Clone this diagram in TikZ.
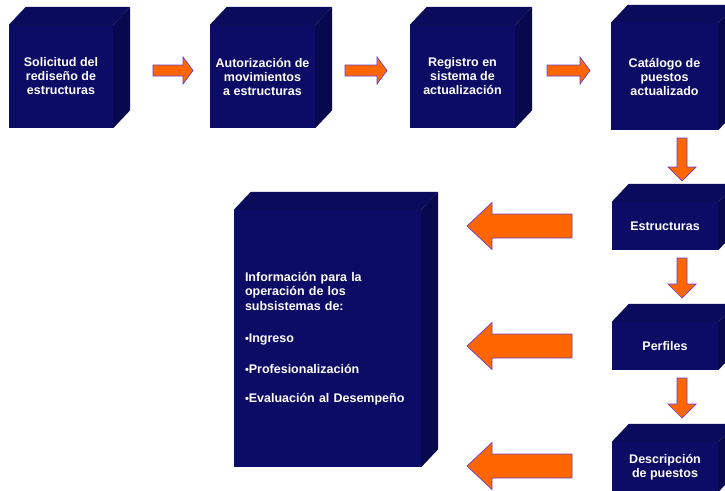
\documentclass[tikz,border=0pt]{standalone}
\usepackage{fontspec}
\setmainfont{Liberation Sans}
\definecolor{cubefront}{RGB}{12,12,102}
\definecolor{cubetop}{RGB}{11,11,92}
\definecolor{cubeside}{RGB}{8,8,78}
\definecolor{arrowfill}{RGB}{255,102,0}
\definecolor{arrowline}{RGB}{104,64,200}

% a box with a shaded top and right face
\newcommand\cubefaces[1]{%
  \fill[cubetop] (#1.north west) -- ++(17,-18) -- ([shift={(17,-18)}]#1.north east) -- (#1.north east) -- cycle;
  \fill[cubeside] (#1.north east) -- ++(17,-18) -- ([shift={(17,-18)}]#1.south east) -- (#1.south east) -- cycle;
}
% block arrow: tail x, tail y, rotation, length, head length, shaft half width, head half width
\newcommand\blockarrow[7]{%
  \draw[blockarrowstyle, shift={(#1,#2)}, rotate=#3]
    (0,-#6) -- ({#4-#5},-#6) -- ({#4-#5},-#7) -- (#4,0) -- ({#4-#5},#7) -- ({#4-#5},#6) -- (0,#6) -- cycle;
}
\newcommand\infobullet{{\fontsize{11}{11}\selectfont •}}

\begin{document}
\begin{tikzpicture}[x=1pt,y=-1pt,
  cube/.style={fill=cubefront, draw=none, inner sep=0pt, text=white,
    font=\bfseries\fontsize{12.5}{14}\selectfont, align=center},
  blockarrowstyle/.style={fill=arrowfill, draw=arrowline, line width=0.7pt, line join=miter},
]
\useasboundingbox (0,0) rectangle (725,490);
\clip (0,0) rectangle (725,490);

% top row
\node[cube, minimum width=104pt, minimum height=103pt] (solicitud) at (61,76.5)
  {Solicitud del\\rediseño de\\estructuras};
\cubefaces{solicitud}
\node[cube, minimum width=105pt, minimum height=103pt] (autorizacion) at (262.5,76.5)
  {Autorización de\\movimientos\\a estructuras};
\cubefaces{autorizacion}
\node[cube, minimum width=105pt, minimum height=103pt] (registro) at (462.5,76.5)
  {Registro en\\sistema de\\actualización};
\cubefaces{registro}
\node[cube, minimum width=107pt, minimum height=107pt] (catalogo) at (664.5,76.5)
  {Catálogo de\\puestos\\actualizado};
\cubefaces{catalogo}

% right column
\node[cube, minimum width=106pt, minimum height=48pt] (estructuras) at (665,226) {Estructuras};
\cubefaces{estructuras}
\node[cube, minimum width=106pt, minimum height=48pt] (perfiles) at (665,346) {Perfiles};
\cubefaces{perfiles}
\node[cube, minimum width=106pt, minimum height=50pt] (descripcion) at (665,467) {Descripción\\de puestos};
\cubefaces{descripcion}

% information box
\node[cube, minimum width=187pt, minimum height=257pt, text width=165pt, align=left,
      font=\bfseries\fontsize{12.5}{14.5}\selectfont] (info) at (327.5,338.5)
  {Información para la\\operación de los\\subsistemas de:\\[17.5pt]%
   \infobullet Ingreso\\[16.5pt]%
   \infobullet Profesionalización\\[14.5pt]%
   \infobullet Evaluación al Desempeño};
\cubefaces{info}

% arrows along the top row
\blockarrow{153}{70.5}{0}{40}{10}{5.5}{13.5}
\blockarrow{345}{70.5}{0}{42}{10}{5.5}{13.5}
\blockarrow{547}{70.5}{0}{43}{10}{5.5}{13.5}

% arrows down the right column
\blockarrow{682}{138}{-90}{43}{14}{5}{14}
\blockarrow{682}{258}{-90}{40}{14}{5}{14}
\blockarrow{682}{378}{-90}{40}{14}{5}{14}

% arrows into the information box
\blockarrow{572}{226}{180}{105}{25}{12}{23.5}
\blockarrow{572}{346}{180}{105}{25}{12}{23.5}
\blockarrow{572}{466}{180}{105}{25}{12}{23.5}
\end{tikzpicture}
\end{document}
